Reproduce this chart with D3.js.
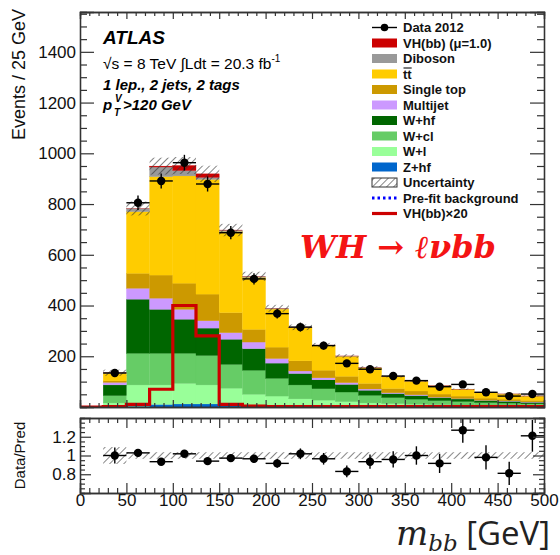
<!DOCTYPE html>
<html>
<head>
<meta charset="utf-8">
<script src="https://cdn.jsdelivr.net/npm/d3@7"></script>
<style>
  body { margin: 0; background: #fff; }
  svg { display: block; }
</style>
</head>
<body>
<svg id="chart" width="560" height="555"></svg>
<script>
// ---- m_bb distribution, 25 GeV bins (lower edges) ----
const binLow = [25, 50, 75, 100, 125, 150, 175, 200, 225, 250, 275, 300, 325, 350, 375, 400, 425, 450, 475];
const binWidth = 25;

// Observed events
const data2012 = [134, 805, 891, 963, 879, 687, 505, 368, 315, 242, 172, 149, 122, 104, 80, 89, 58, 43, 51];

// Post-fit background and signal components (stack order, bottom to top)
const zhf      = [2, 3, 10, 12, 12, 6, 5, 3, 2, 2, 1, 1, 1, 1, 1, 0.5, 0.5, 0.5, 0.5];
const wl       = [14, 84, 77, 81, 75, 68, 45, 40, 30, 25, 20, 15, 12, 10, 8, 7, 6, 5, 4];
const wcl      = [29, 125, 125, 119, 116, 94, 95, 70, 55, 45, 38, 30, 24, 20, 16, 14, 11, 10, 8];
const whf      = [42, 213, 173, 134, 108, 99, 85, 60, 45, 35, 30, 20, 16, 14, 12, 10, 8, 7, 6];
const multijet = [10, 43, 44, 39, 29, 26, 26, 18, 10, 8, 7, 5, 3, 3, 2, 1.5, 1.5, 1.5, 1.5];
const singleTop= [6, 59, 91, 103, 105, 79, 50, 45, 40, 30, 25, 22, 17, 15, 12, 10, 8, 7, 6];
const ttbar    = [30, 243, 388, 423, 452, 320, 205, 150, 130, 98, 79, 61, 47, 39, 32, 27, 22, 20, 17];
const diboson  = [2, 12, 38, 21, 8, 5, 4, 3, 2, 1, 1, 1, 0.5, 0.5, 0.5, 0.3, 0.3, 0.3, 0.3];
const vhbb     = [0.1, 0.5, 3.5, 20, 14, 0.5, 0.2, 0.1, 0.1, 0.1, 0.1, 0.1, 0.1, 0.1, 0.1, 0.1, 0.1, 0.1, 0.1];

// Data / prediction and relative background uncertainty
const ratioValues = [1.00, 1.028, 0.934, 1.018, 0.94, 0.972, 0.965, 0.916, 1.018, 0.965, 0.83, 0.934, 0.958, 1.00, 0.916, 1.27, 0.98, 0.81, 1.21];
const relUnc = [0.09, 0.035, 0.035, 0.035, 0.035, 0.035, 0.035, 0.035, 0.035, 0.035, 0.035, 0.035, 0.035, 0.035, 0.035, 0.035, 0.035, 0.035, 0.035];

const yTicksMain = [200, 400, 600, 800, 1000, 1200, 1400];
const yTicksRatio = [0.8, 1.0, 1.2];
const xTicks = [0, 50, 100, 150, 200, 250, 300, 350, 400, 450, 500];

const processes = [
  { key: "zhf",       label: "Z+hf",         color: "#0066cc", values: zhf },
  { key: "wl",        label: "W+l",          color: "#99ff99", values: wl },
  { key: "wcl",       label: "W+cl",         color: "#66cc66", values: wcl },
  { key: "whf",       label: "W+hf",         color: "#006600", values: whf },
  { key: "multijet",  label: "Multijet",     color: "#cc99ff", values: multijet },
  { key: "singletop", label: "Single top",   color: "#cc9900", values: singleTop },
  { key: "ttbar",     label: "tt",           color: "#ffcc00", values: ttbar },
  { key: "diboson",   label: "Diboson",      color: "#999999", values: diboson },
  { key: "vhbb",      label: "VH(bb) (\u03bc=1.0)", color: "#cc0000", values: vhbb }
];

const svg = d3.select("#chart");
const FONT = "'Liberation Sans', Arial, Helvetica, sans-serif";
const AX = "#333";

// Panels
const main = { left: 80, right: 544, top: 12, bottom: 407 };
const rat  = { left: 80, right: 544, top: 418, bottom: 493 };

const x = d3.scaleLinear().domain([0, 500]).range([main.left, main.right]);
const y = d3.scaleLinear().domain([0, 1557]).range([main.bottom, main.top]);
const yr = d3.scaleLinear().domain([0.6, 1.4]).range([rat.bottom, rat.top]);

// Hatch pattern for uncertainty bands
const defs = svg.append("defs");
defs.append("pattern")
  .attr("id", "hatch")
  .attr("patternUnits", "userSpaceOnUse")
  .attr("width", 5).attr("height", 5)
  .attr("patternTransform", "rotate(45)")
  .append("line")
  .attr("x1", 0).attr("y1", 0).attr("x2", 0).attr("y2", 5)
  .attr("stroke", "#333").attr("stroke-width", 1.2);

defs.append("clipPath").attr("id", "clipMain")
  .append("rect").attr("x", main.left).attr("y", main.top)
  .attr("width", main.right - main.left).attr("height", main.bottom - main.top);
defs.append("clipPath").attr("id", "clipRatio")
  .append("rect").attr("x", rat.left).attr("y", rat.top)
  .attr("width", rat.right - rat.left).attr("height", rat.bottom - rat.top);

// Stack table
const rows = binLow.map((lo, i) => {
  const r = { lo: lo };
  processes.forEach(p => { r[p.key] = p.values[i]; });
  return r;
});
const stack = d3.stack().keys(processes.map(p => p.key))(rows);
const totals = rows.map(r => processes.reduce((s, p) => s + r[p.key], 0));

const gMain = svg.append("g").attr("clip-path", "url(#clipMain)");

// Stacked histogram
stack.forEach((layer, li) => {
  gMain.append("g").selectAll("rect")
    .data(layer)
    .join("rect")
    .attr("x", d => x(d.data.lo))
    .attr("width", d => x(d.data.lo + binWidth) - x(d.data.lo))
    .attr("y", d => y(d[1]))
    .attr("height", d => Math.max(0, y(d[0]) - y(d[1])))
    .attr("fill", processes[li].color)
    .attr("stroke", processes[li].color)
    .attr("stroke-width", 0.3);
});

// Uncertainty band on stack total
gMain.append("g").selectAll("rect")
  .data(binLow.map((lo, i) => ({ lo, t: totals[i], u: relUnc[i] })))
  .join("rect")
  .attr("x", d => x(d.lo))
  .attr("width", d => x(d.lo + binWidth) - x(d.lo))
  .attr("y", d => y(d.t * (1 + d.u)))
  .attr("height", d => y(d.t * (1 - d.u)) - y(d.t * (1 + d.u)))
  .attr("fill", "url(#hatch)");

// VH(bb) x 20 overlay, drawn as a step line from 0 to 500 GeV
const vhSteps = [{ lo: 0, v: 0 }].concat(binLow.map((lo, i) => ({ lo, v: vhbb[i] * 20 })));
const stepPts = [];
vhSteps.forEach(d => { stepPts.push([d.lo, d.v]); stepPts.push([d.lo + binWidth, d.v]); });
gMain.append("path")
  .attr("d", d3.line().x(d => x(d[0])).y(d => y(d[1]))(stepPts))
  .attr("fill", "none")
  .attr("stroke", "#cc0000")
  .attr("stroke-width", 3.2)
  .attr("stroke-linejoin", "miter");

// Data points with Poisson errors
const gData = svg.append("g");
const dataPts = binLow.map((lo, i) => ({ lo, n: data2012[i] }));
gData.selectAll("line.h").data(dataPts).join("line")
  .attr("x1", d => x(d.lo)).attr("x2", d => x(d.lo + binWidth))
  .attr("y1", d => y(d.n)).attr("y2", d => y(d.n))
  .attr("stroke", "#000").attr("stroke-width", 1.4);
gData.selectAll("line.v").data(dataPts).join("line")
  .attr("x1", d => x(d.lo + binWidth / 2)).attr("x2", d => x(d.lo + binWidth / 2))
  .attr("y1", d => y(d.n + Math.sqrt(d.n))).attr("y2", d => y(d.n - Math.sqrt(d.n)))
  .attr("stroke", "#000").attr("stroke-width", 1.4);
gData.selectAll("circle").data(dataPts).join("circle")
  .attr("cx", d => x(d.lo + binWidth / 2)).attr("cy", d => y(d.n))
  .attr("r", 4.2).attr("fill", "#000");

// ---- Ratio panel ----
const gRat = svg.append("g").attr("clip-path", "url(#clipRatio)");
gRat.append("g").selectAll("rect")
  .data(binLow.map((lo, i) => ({ lo, u: relUnc[i] })))
  .join("rect")
  .attr("x", d => x(d.lo))
  .attr("width", d => x(d.lo + binWidth) - x(d.lo))
  .attr("y", d => yr(1 + d.u))
  .attr("height", d => yr(1 - d.u) - yr(1 + d.u))
  .attr("fill", "url(#hatch)");

const ratioPts = binLow.map((lo, i) => ({ lo, r: ratioValues[i], e: ratioValues[i] / Math.sqrt(data2012[i]) }));
gRat.selectAll("line.h").data(ratioPts).join("line")
  .attr("x1", d => x(d.lo)).attr("x2", d => x(d.lo + binWidth))
  .attr("y1", d => yr(d.r)).attr("y2", d => yr(d.r))
  .attr("stroke", "#000").attr("stroke-width", 1.4);
gRat.selectAll("line.v").data(ratioPts).join("line")
  .attr("x1", d => x(d.lo + binWidth / 2)).attr("x2", d => x(d.lo + binWidth / 2))
  .attr("y1", d => yr(d.r + d.e)).attr("y2", d => yr(d.r - d.e))
  .attr("stroke", "#000").attr("stroke-width", 1.4);
gRat.selectAll("circle").data(ratioPts).join("circle")
  .attr("cx", d => x(d.lo + binWidth / 2)).attr("cy", d => yr(d.r))
  .attr("r", 4.2).attr("fill", "#000");

// ---- Axes (ticks pointing inward on all sides) ----
function styleAxis(g) {
  g.selectAll("path.domain").attr("stroke", AX).attr("stroke-width", 1.3);
  g.selectAll(".tick line").attr("stroke", AX).attr("stroke-width", 1.2);
  g.selectAll("text").attr("font-family", FONT).attr("fill", "#111");
}
function frame(p, yScale, yMajor, yMinor, xMajLen, xMinLen, yMajLen, yMinLen, showXLabels, yFmt) {
  const minorX = d3.range(0, 501, 10).filter(v => v % 50 !== 0);
  // bottom
  svg.append("g").attr("transform", `translate(0,${p.bottom})`)
    .call(d3.axisBottom(x).tickValues(xTicks).tickSize(-xMajLen).tickPadding(1)
      .tickFormat(showXLabels ? d3.format("d") : () => ""))
    .call(g => g.selectAll("text").attr("font-size", 17))
    .call(styleAxis);
  svg.append("g").attr("transform", `translate(0,${p.bottom})`)
    .call(d3.axisBottom(x).tickValues(minorX).tickSize(-xMinLen).tickFormat(() => ""))
    .call(styleAxis);
  // top
  svg.append("g").attr("transform", `translate(0,${p.top})`)
    .call(d3.axisTop(x).tickValues(xTicks).tickSize(-xMajLen).tickFormat(() => ""))
    .call(styleAxis);
  svg.append("g").attr("transform", `translate(0,${p.top})`)
    .call(d3.axisTop(x).tickValues(minorX).tickSize(-xMinLen).tickFormat(() => ""))
    .call(styleAxis);
  // left
  svg.append("g").attr("transform", `translate(${p.left},0)`)
    .call(d3.axisLeft(yScale).tickValues(yMajor).tickSize(-yMajLen).tickPadding(4).tickFormat(yFmt))
    .call(g => g.selectAll("text").attr("font-size", 17))
    .call(styleAxis);
  svg.append("g").attr("transform", `translate(${p.left},0)`)
    .call(d3.axisLeft(yScale).tickValues(yMinor).tickSize(-yMinLen).tickFormat(() => ""))
    .call(styleAxis);
  // right
  svg.append("g").attr("transform", `translate(${p.right},0)`)
    .call(d3.axisRight(yScale).tickValues(yMajor).tickSize(-yMajLen).tickFormat(() => ""))
    .call(styleAxis);
  svg.append("g").attr("transform", `translate(${p.right},0)`)
    .call(d3.axisRight(yScale).tickValues(yMinor).tickSize(-yMinLen).tickFormat(() => ""))
    .call(styleAxis);
}
const yMinorMain = d3.range(50, 1551, 50).filter(v => v % 200 !== 0);
frame(main, y, yTicksMain, yMinorMain, 7, 4, 14, 7, false, d3.format("d"));
const yMinorRatio = [0.65, 0.7, 0.75, 0.85, 0.9, 0.95, 1.05, 1.1, 1.15, 1.25, 1.3, 1.35];
frame(rat, yr, yTicksRatio, yMinorRatio, 10, 5, 11, 5, true, d => (d === 1 ? "1" : d3.format(".1f")(d)));

// Axis titles
svg.append("text")
  .attr("transform", "translate(25,9) rotate(-90)")
  .attr("text-anchor", "end")
  .attr("font-family", FONT).attr("font-size", 18).attr("fill", "#111")
  .text("Events / 25 GeV");
svg.append("text")
  .attr("transform", `translate(25,${(rat.top + rat.bottom) / 2}) rotate(-90)`)
  .attr("text-anchor", "middle")
  .attr("font-family", FONT).attr("font-size", 15).attr("fill", "#111")
  .text("Data/Pred");

const xTitle = svg.append("text")
  .attr("x", 396).attr("y", 545)
  .attr("fill", "#222");
xTitle.append("tspan")
  .attr("font-family", "'DejaVu Serif', serif").attr("font-style", "italic").attr("font-size", 34)
  .text("m");
xTitle.append("tspan")
  .attr("font-family", "'DejaVu Serif', serif").attr("font-style", "italic").attr("font-size", 23)
  .attr("dy", 6).text("bb");
xTitle.append("tspan")
  .attr("font-family", "'Open Sans', sans-serif").attr("font-size", 33)
  .attr("dy", -6).text(" [GeV]");

// ATLAS labels
const tx = 103;
svg.append("text").attr("x", tx).attr("y", 44)
  .attr("font-family", FONT).attr("font-weight", "bold").attr("font-style", "italic")
  .attr("font-size", 19).attr("fill", "#000").text("ATLAS");
const lumi = svg.append("text").attr("x", tx).attr("y", 69)
  .attr("font-family", FONT).attr("font-size", 15.5).attr("fill", "#000");
lumi.append("tspan").text("\u221as = 8 TeV \u222bLdt = 20.3 fb");
lumi.append("tspan").attr("font-size", 10).attr("dy", -7).text("-1");
svg.append("text").attr("x", tx).attr("y", 90)
  .attr("font-family", FONT).attr("font-weight", "bold").attr("font-style", "italic")
  .attr("font-size", 15).attr("fill", "#000").text("1 lep., 2 jets, 2 tags");
const ptLab = svg.append("g").attr("font-family", FONT).attr("font-weight", "bold")
  .attr("font-style", "italic").attr("fill", "#000");
ptLab.append("text").attr("x", tx).attr("y", 110).attr("font-size", 15).text("p");
ptLab.append("text").attr("x", tx + 12).attr("y", 102).attr("font-size", 10).text("V");
ptLab.append("text").attr("x", tx + 11).attr("y", 116).attr("font-size", 10).text("T");
ptLab.append("text").attr("x", tx + 20).attr("y", 110).attr("font-size", 15).text(">120 GeV");

// Channel label
svg.append("text").attr("x", 300).attr("y", 258)
  .attr("font-family", "'DejaVu Serif', serif")
  .attr("font-weight", "bold").attr("font-style", "italic")
  .attr("font-size", 32).attr("fill", "#f41414")
  .text("WH \u2192 \u2113\u03bdbb");

// ---- Legend ----
const legend = [
  { type: "data",  label: "Data 2012" },
  { type: "box",   label: "VH(bb) (\u03bc=1.0)", color: "#cc0000" },
  { type: "box",   label: "Diboson",    color: "#999999" },
  { type: "box",   label: "tt",         color: "#ffcc00", bar: true },
  { type: "box",   label: "Single top", color: "#cc9900" },
  { type: "box",   label: "Multijet",   color: "#cc99ff" },
  { type: "box",   label: "W+hf",       color: "#006600" },
  { type: "box",   label: "W+cl",       color: "#66cc66" },
  { type: "box",   label: "W+l",        color: "#99ff99" },
  { type: "box",   label: "Z+hf",       color: "#0066cc" },
  { type: "hatch", label: "Uncertainty" },
  { type: "dots",  label: "Pre-fit background" },
  { type: "line",  label: "VH(bb)\u00d720" }
];
const lg = svg.append("g");
const ly0 = 27.5, lstep = 15.5, bx0 = 372, bx1 = 397, tx0 = 403;
legend.forEach((e, i) => {
  const cy = ly0 + i * lstep;
  if (e.type === "data") {
    lg.append("line").attr("x1", bx0).attr("x2", bx1).attr("y1", cy).attr("y2", cy)
      .attr("stroke", "#000").attr("stroke-width", 1.4);
    lg.append("circle").attr("cx", (bx0 + bx1) / 2).attr("cy", cy).attr("r", 3.8).attr("fill", "#000");
  } else if (e.type === "box") {
    lg.append("rect").attr("x", bx0).attr("y", cy - 4.5).attr("width", bx1 - bx0).attr("height", 9)
      .attr("fill", e.color);
  } else if (e.type === "hatch") {
    lg.append("rect").attr("x", bx0).attr("y", cy - 4.5).attr("width", bx1 - bx0).attr("height", 9)
      .attr("fill", "url(#hatch)").attr("stroke", "#333").attr("stroke-width", 1);
  } else if (e.type === "dots") {
    lg.append("line").attr("x1", bx0).attr("x2", bx1).attr("y1", cy).attr("y2", cy)
      .attr("stroke", "#0000ff").attr("stroke-width", 3).attr("stroke-dasharray", "2.5,3");
  } else if (e.type === "line") {
    lg.append("line").attr("x1", bx0).attr("x2", bx1).attr("y1", cy).attr("y2", cy)
      .attr("stroke", "#cc0000").attr("stroke-width", 3.2);
  }
  const t = lg.append("text").attr("x", tx0).attr("y", cy).attr("dy", "0.36em")
    .attr("font-family", FONT).attr("font-weight", "bold").attr("font-size", 13)
    .attr("fill", "#111").text(e.label);
  if (e.bar) {
    const w = t.node().getComputedTextLength();
    lg.append("line").attr("x1", tx0 + 0.5).attr("x2", tx0 + w)
      .attr("y1", cy - 6).attr("y2", cy - 6).attr("stroke", "#111").attr("stroke-width", 1.1);
  }
});
</script>
</body>
</html>
